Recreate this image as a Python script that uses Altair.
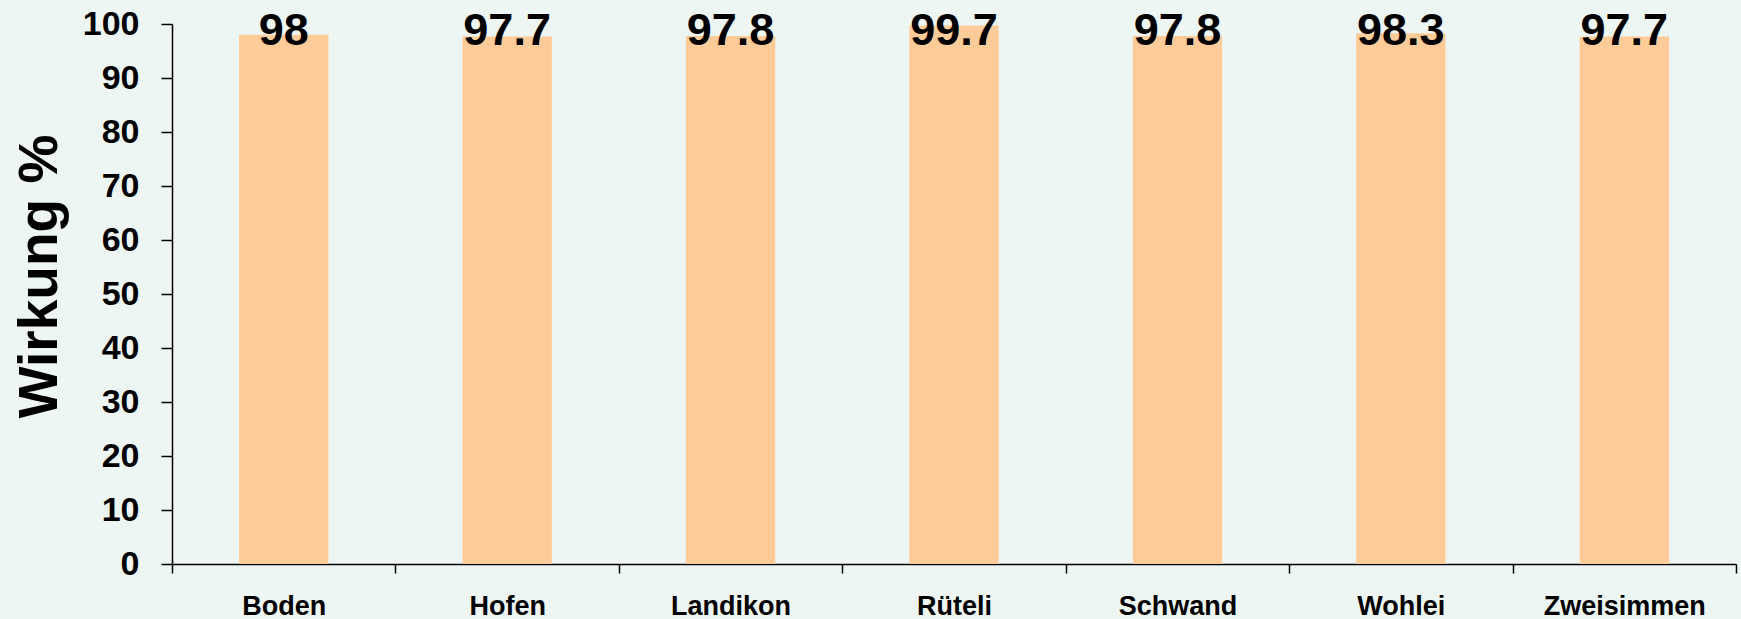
import altair as alt
import pandas as pd

categories = ["Boden", "Hofen", "Landikon", "Rüteli", "Schwand", "Wohlei", "Zweisimmen"]
values = [98, 97.7, 97.8, 99.7, 97.8, 98.3, 97.7]
labels = ["98", "97.7", "97.8", "99.7", "97.8", "98.3", "97.7"]
y_ticks = [0, 10, 20, 30, 40, 50, 60, 70, 80, 90, 100]

df = pd.DataFrame({"Ort": categories, "Wirkung": values, "Label": labels})

FONT = "Liberation Sans"

x = alt.X(
    "Ort:N",
    sort=categories,
    scale=alt.Scale(paddingInner=0, paddingOuter=0),
    axis=alt.Axis(
        title=None, labelAngle=0, tickBand="extent", tickSize=9, labelPadding=41,
        labelBaseline="alphabetic", labelFont=FONT, labelFontSize=27, labelFontWeight="bold",
        labelColor="black", domainColor="black", tickColor="black",
        domainWidth=1.5, tickWidth=1.5, grid=False,
    ),
)

y = alt.Y(
    "Wirkung:Q",
    scale=alt.Scale(domain=[0, 100], nice=False),
    axis=alt.Axis(
        title="Wirkung %", values=y_ticks, tickSize=11, labelPadding=22,
        labelFont=FONT, labelFontSize=34, labelFontWeight="bold", labelColor="black",
        titleFont=FONT, titleFontSize=55, titleFontWeight="bold", titleColor="black",
        titleAngle=270, titleX=-116, titleY=252, titleAlign="center", titleBaseline="alphabetic",
        domainColor="black", tickColor="black", domainWidth=1.5, tickWidth=1.5, grid=False,
    ),
)

bars = alt.Chart(df).mark_bar(color="#FFCC99", width=alt.RelativeBandSize(0.4)).encode(x=x, y=y)
text = alt.Chart(df).mark_text(
    baseline="alphabetic", fontSize=45, fontWeight="bold", font=FONT, color="black"
).encode(x=alt.X("Ort:N", sort=categories), y=alt.value(21), text="Label:N")

chart = (
    alt.layer(bars, text)
    .properties(
        width=1564, height=540,
        padding={"left": 172, "top": 24, "right": 5, "bottom": 55},
        autosize="none", background="#EEF6F3",
    )
    .configure_view(stroke=None)
)

chart.save("out.html", embed_options={"renderer": "svg", "actions": False})
